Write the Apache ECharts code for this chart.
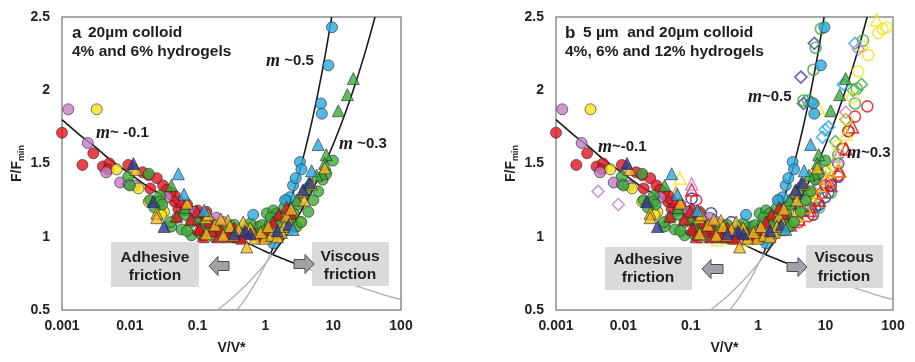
<!DOCTYPE html>
<html>
<head>
<meta charset="utf-8">
<script src="https://cdn.jsdelivr.net/npm/echarts@6/dist/echarts.min.js"></script>
<style>
html,body{margin:0;padding:0;background:#fff;}
#chart{width:915px;height:362px;}
</style>
</head>
<body>
<div id="chart"></div>
<script>
// ---------- tick labels ----------
const xTickLabels = ['0.001', '0.01', '0.1', '1', '10', '100'];
const yTickLabels = ['0.5', '1', '1.5', '2', '2.5'];

// ---------- filled markers (both panels) : [V/V*, F/Fmin] ----------
const redCircles = [[0.001,1.71],[0.002,1.49],[0.0029,1.57],[0.004,1.48],[0.005,1.50],[0.0048,1.46],[0.0095,1.49],[0.0155,1.44],[0.019,1.42],[0.025,1.40],[0.02,1.33],[0.031,1.35],[0.035,1.32],[0.046,1.28],[0.046,1.24],[0.052,1.19],[0.065,1.18],[0.086,1.17],[0.10,1.18],[0.135,1.17],[0.11,1.13],[0.16,1.10],[0.2,1.06],[0.07,1.22],[0.04,1.30]];
const pinkCircles = [[0.00124,1.87],[0.0024,1.64],[0.0045,1.44],[0.0072,1.37],[0.0095,1.36],[0.012,1.35],[0.19,1.13],[0.24,1.10],[0.09,1.17],[0.035,1.27],[0.3,1.08],[0.14,1.12]];
const yellowCircles = [[0.00325,1.87],[0.0064,1.46],[0.0134,1.33],[0.019,1.24],[0.032,1.17],[0.029,1.15],[3.24,1.10],[2.2,1.05],[0.5,1.02],[1.6,1.02],[0.9,1.04],[1.2,1.0],[2.7,1.07],[0.3,1.04],[0.15,1.05]];
const greenCircles = [[0.0095,1.41],[0.01,1.35],[0.019,1.43],[0.028,1.28],[0.02,1.25],[0.028,1.24],[0.058,1.05],[0.041,1.07],[0.081,1.10],[0.12,1.01],[0.081,1.01],[0.115,1.01],[0.12,1.07],[0.05,1.13],[0.03,1.22],[0.065,1.15],[0.15,1.05],[0.2,1.03],[0.25,1.06],[0.35,1.08],[0.55,1.06],[0.79,1.07],[0.9,1.08],[1.05,1.16],[1.17,1.09],[1.31,1.18],[1.4,1.11],[1.48,1.16],[1.64,1.14],[2.05,1.25],[2.3,1.11],[2.9,1.07],[3.4,1.10],[4.3,1.17],[5.1,1.25],[6.0,1.31],[7.0,1.39],[7.9,1.43],[9.9,1.52],[0.7,1.02],[1.9,1.20],[0.13,1.04],[0.17,1.0],[0.3,1.02],[0.45,1.04],[0.6,1.09],[1.0,1.04],[1.2,1.13],[1.7,1.09],[2.6,1.16],[3.0,1.22],[0.04,1.1],[0.07,1.04],[0.023,1.2]];
const cyanCircles = [[9.6,2.43],[8.5,2.17],[6.6,1.91],[6.8,1.84],[3.24,1.51],[3.4,1.46],[2.56,1.35],[2.3,1.27],[1.95,1.25],[0.66,1.15],[1.31,0.955],[2.8,1.40]];
const cyanTriangles = [[0.052,1.43],[0.063,1.29],[0.125,1.18],[2.56,1.05],[4.8,1.45],[6.0,1.63]];
const blueTriangles = [[0.0113,1.50],[0.022,1.24],[0.032,1.07],[0.5,1.04],[0.6,1.02],[3.6,1.32],[4.5,1.37],[0.35,1.02],[1.5,1.04],[2.2,1.08]];
const redTriangles = [[0.049,1.14],[0.058,1.24],[0.097,1.17],[0.103,1.06],[0.108,1.05],[0.2,1.00],[0.21,1.06],[0.27,1.02],[0.3,1.00],[0.4,1.00],[0.53,1.03],[1.05,1.05],[1.57,1.15],[2.05,1.20],[0.15,1.10],[0.12,1.0],[0.16,1.04],[0.35,1.06],[0.45,0.99],[0.7,1.02],[0.9,1.0],[1.3,1.1],[2.4,1.16],[0.08,1.12]];
const orangeTriangles = [[0.0123,1.46],[0.025,1.16],[0.025,1.13],[0.07,1.23],[0.133,1.13],[0.143,1.15],[0.135,1.02],[0.24,1.01],[0.28,1.11],[0.34,1.01],[0.47,1.10],[0.53,0.93],[0.7,0.99],[0.98,0.99],[1.24,1.01],[1.73,1.03],[2.05,1.14],[2.31,1.09],[2.4,1.19],[3.5,1.31],[3.75,1.25],[4.8,1.36],[7.5,1.47],[0.18,1.08],[0.22,1.12],[0.4,1.05],[0.6,1.06],[0.85,1.03],[1.1,1.07],[1.5,1.0],[1.9,1.07],[0.3,1.07]];
const greenTriangles = [[19.8,2.08],[16.2,1.97],[11.9,1.86],[7.9,1.56],[7.5,1.50],[6.8,1.43],[5.7,1.42],[4.3,1.36],[3.9,1.33],[3.6,1.30],[2.9,1.25],[2.31,1.16],[0.041,1.35],[0.065,1.20],[0.1,1.12],[0.5,1.07],[1.3,1.05]];

// ---------- hollow markers (panel b only) ----------
const hBlueCircles = [[0.103,1.26],[0.2,1.16],[0.4,1.10],[0.28,1.05],[0.8,1.03],[1.5,1.06],[2.5,1.12],[3.5,1.22],[5.0,1.18],[6.5,1.15],[8.0,1.22],[9.8,1.27],[15.4,1.50],[15.4,1.41],[12,1.35],[4.0,1.30],[0.5,1.07],[1.2,1.03],[2,1.08],[7,1.2],[11,1.3]];
const hBlueDiamonds = [[6.8,2.32],[4.3,2.09],[4.7,1.91],[6.1,1.92],[4.5,1.30],[3.2,1.25],[2.5,1.20],[7.5,1.33],[0.3,1.03],[1.2,1.05]];
const hGreenCircles = [[8.5,2.42],[7.1,2.29],[6.6,2.14],[4.7,1.93],[5.5,1.93],[36,2.34],[28.9,2.01],[27.3,1.91],[15.4,1.56],[22,1.72],[12,1.30],[8,1.20],[3,1.12],[1.5,1.05],[0.5,1.02],[0.1,1.14],[0.15,1.08],[0.3,1.05],[0.7,1.06],[2,1.1],[4.5,1.2],[0.2,1.08]];
const hGreenDiamonds = [[34,2.04],[25.7,2.0],[20,1.80],[14,1.65],[10,1.45],[6,1.25],[3,1.10],[0.9,1.02]];
const hRedCircles = [[41.6,1.89],[27.3,1.82],[21.7,1.72],[15.4,1.42],[18,1.60],[12,1.38],[9,1.30],[5.5,1.14],[4,1.10],[2.5,1.05],[0.12,1.25],[3,1.08],[6,1.2],[7,1.25],[10,1.35]];
const hRedTriangles = [[0.103,1.32],[0.5,1.0],[1.0,1.0],[2.0,1.05],[4.0,1.12],[8,1.25],[12,1.35],[16,1.45],[20,1.60],[25,1.75],[0.25,1.02],[0.7,1.03],[3,1.08],[6,1.18]];
const hYellowCircles = [[80,2.43],[60,2.39],[43,2.24],[30.5,2.13],[20.5,1.80],[25,1.95],[35,2.30],[70,2.42],[15,1.62],[10,1.45],[6,1.30],[3,1.12],[1,1.0],[0.4,0.99]];
const hYellowTriangles = [[57,2.48],[0.069,1.40],[0.15,1.02],[0.3,1.08],[0.25,0.98],[0.6,0.98],[1.2,1.0],[2,1.05],[4,1.15],[6,1.28],[8,1.35],[11,1.45],[14,1.52],[20,1.7],[7.8,1.88],[0.35,1.03],[0.45,0.99],[0.8,1.02],[1.5,1.02],[2.5,1.1],[3,1.16],[5,1.2]];
const hCyanDiamonds = [[27.3,2.32],[18.4,2.04],[9.8,1.73],[9.0,1.68],[11,1.75],[5,1.22],[3,1.12],[0.2,1.05],[1.5,1.03],[7,1.4]];
const hPinkDiamonds = [[0.0042,1.31],[0.0084,1.22],[0.3,1.0],[0.25,1.02],[0.4,1.01],[0.5,1.0],[0.6,0.99],[0.7,1.01],[0.35,0.99],[0.45,1.02],[0.8,1.0],[1.0,1.02],[30.5,2.28],[20,1.85],[0.2,1.0],[0.55,1.03],[0.9,0.99],[1.2,1.02],[1.6,1.0]];
const hPinkTriangles = [[0.103,1.36],[0.2,1.03],[0.3,1.05],[0.6,1.03],[1.5,1.04],[3,1.1],[8,1.4],[15,1.55]];
const hOrangeTriangles = [[0.06,1.30],[0.15,1.0],[0.35,1.0],[0.8,1.0],[2.5,1.08],[5,1.2],[10,1.4],[15,1.45],[0.5,1.02],[0.25,1.0],[1.2,1.03],[3.5,1.14],[7,1.3]];

// ---------- guide lines, points ----------
const lineNegBlackV = [0.001, 0.002, 0.00316, 0.005, 0.01, 0.02, 0.0316, 0.05, 0.1, 0.2, 0.316, 0.5, 1, 1.6, 2.5, 3];
const lineNegBlackF = [1.80, 1.68, 1.61, 1.53, 1.43, 1.33, 1.28, 1.22, 1.14, 1.06, 1.01, 0.965, 0.90, 0.86, 0.825, 0.81];
const lineNegGrayV = [3, 5, 10, 20, 31.6, 50, 100];
const lineNegGrayF = [0.81, 0.77, 0.72, 0.67, 0.64, 0.61, 0.57];
const lineHalfGrayV = [0.38, 0.5, 0.65, 0.85, 1.2];
const lineHalfGrayF = [0.50, 0.573, 0.654, 0.748, 0.888];
const lineHalfBlackV = [1.2, 1.5, 1.9, 2.4, 3.0, 3.8, 4.8, 6.0, 7.6, 9.5];
const lineHalfBlackF = [0.888, 0.993, 1.118, 1.257, 1.405, 1.581, 1.777, 1.987, 2.236, 2.5];
const lineThirdGrayV = [0.2, 0.3, 0.45, 0.65, 0.9, 1.28];
const lineThirdGrayF = [0.504, 0.569, 0.643, 0.718, 0.792, 0.880];
const lineThirdBlackV = [1.28, 2, 3, 4.5, 7, 10, 15, 22, 31, 41.4];
const lineThirdBlackF = [0.880, 1.006, 1.136, 1.283, 1.465, 1.630, 1.841, 2.066, 2.291, 2.5];

// ---------- colours ----------
const C = {red:'#e5131d', pink:'#c77ac8', yellow:'#f1e41c', green:'#3bab3a', cyan:'#27a9e1', blue:'#2b3595', orange:'#f6b91a', orangeH:'#f39a1e'};

const FONT = '"Liberation Sans", Arial, sans-serif';
const SERIF = '"Liberation Serif", "DejaVu Serif", serif';

function zip(a, b) { return a.map((v, i) => [v, b[i]]); }
function sc(data, symbol, color, hollow, gi, size) {
  return {
    type: 'scatter', xAxisIndex: gi, yAxisIndex: gi, data: data, symbol: symbol, symbolSize: size,
    silent: true, z: 3,
    itemStyle: hollow ? {color: 'rgba(255,255,255,0)', borderColor: color, borderWidth: 1.6}
                      : {color: color, borderColor: '#2a2a2a', borderWidth: 0.8}
  };
}
function ln(V, F, color, width, gi) {
  return {type: 'line', xAxisIndex: gi, yAxisIndex: gi, data: zip(V, F), showSymbol: false, smooth: 0.25,
    silent: true, z: 2, lineStyle: {color: color, width: width}};
}

const series = [];
[0, 1].forEach(gi => {
  series.push(ln(lineNegBlackV, lineNegBlackF, '#1a1a1a', 1.6, gi));
  series.push(ln(lineNegGrayV, lineNegGrayF, '#b0b0b0', 1.3, gi));
  series.push(ln(lineHalfGrayV, lineHalfGrayF, '#b0b0b0', 1.3, gi));
  series.push(ln(lineHalfBlackV, lineHalfBlackF, '#1a1a1a', 1.6, gi));
  series.push(ln(lineThirdGrayV, lineThirdGrayF, '#b0b0b0', 1.3, gi));
  series.push(ln(lineThirdBlackV, lineThirdBlackF, '#1a1a1a', 1.6, gi));
  if (gi === 1) {
    series.push(sc(hBlueCircles, 'circle', C.blue, true, gi, 11));
    series.push(sc(hBlueDiamonds, 'diamond', '#3b3fb0', true, gi, 12));
    series.push(sc(hGreenCircles, 'circle', C.green, true, gi, 11));
    series.push(sc(hGreenDiamonds, 'diamond', C.green, true, gi, 12));
    series.push(sc(hRedCircles, 'circle', C.red, true, gi, 11));
    series.push(sc(hRedTriangles, 'triangle', C.red, true, gi, 12));
    series.push(sc(hYellowCircles, 'circle', C.yellow, true, gi, 11));
    series.push(sc(hYellowTriangles, 'triangle', C.yellow, true, gi, 12));
    series.push(sc(hCyanDiamonds, 'diamond', C.cyan, true, gi, 12));
    series.push(sc(hPinkDiamonds, 'diamond', C.pink, true, gi, 12));
    series.push(sc(hPinkTriangles, 'triangle', C.pink, true, gi, 12));
    series.push(sc(hOrangeTriangles, 'triangle', C.orangeH, true, gi, 12));
  }
  series.push(sc(redCircles, 'circle', C.red, false, gi, 11));
  series.push(sc(pinkCircles, 'circle', C.pink, false, gi, 11));
  series.push(sc(yellowCircles, 'circle', C.yellow, false, gi, 11));
  series.push(sc(greenCircles, 'circle', C.green, false, gi, 11));
  series.push(sc(cyanCircles, 'circle', C.cyan, false, gi, 11));
  series.push(sc(greenTriangles, 'triangle', C.green, false, gi, 12));
  series.push(sc(redTriangles, 'triangle', C.red, false, gi, 12));
  series.push(sc(orangeTriangles, 'triangle', C.orange, false, gi, 12));
  series.push(sc(blueTriangles, 'triangle', C.blue, false, gi, 12));
  series.push(sc(cyanTriangles, 'triangle', C.cyan, false, gi, 12));
});

const grids = [
  {left: 62, top: 17, width: 339, height: 293},
  {left: 556, top: 17, width: 337, height: 293}
].map(g => Object.assign(g, {show: true, borderColor: '#8c8c8c', borderWidth: 1.5, backgroundColor: 'transparent'}));

function xAx(gi) {
  return {
    type: 'log', logBase: 10, gridIndex: gi, min: 0.001, max: 100,
    name: 'V/V*', nameLocation: 'middle', nameGap: 31,
    nameTextStyle: {fontFamily: FONT, fontWeight: 'bold', fontSize: 14, color: '#222'},
    axisLine: {show: false}, axisTick: {show: false}, splitLine: {show: false}, minorTick: {show: false},
    axisLabel: {margin: 9, fontFamily: FONT, fontWeight: 'bold', fontSize: 14, color: '#222',
      formatter: v => xTickLabels[Math.round(Math.log10(v)) + 3]}
  };
}
function yAx(gi) {
  return {
    type: 'value', gridIndex: gi, min: 0.5, max: 2.5, interval: 0.5,
    name: '{a|F/F}{b|min}', nameLocation: 'middle', nameGap: 36,
    nameTextStyle: {rich: {
      a: {fontFamily: FONT, fontWeight: 'bold', fontSize: 14, color: '#222', lineHeight: 18},
      b: {fontFamily: FONT, fontWeight: 'bold', fontSize: 9, color: '#222', verticalAlign: 'bottom', lineHeight: 18, padding: [5, 0, 0, 0]}
    }},
    axisLine: {show: false}, axisTick: {show: false}, splitLine: {show: false},
    axisLabel: {margin: 12, fontFamily: FONT, fontWeight: 'bold', fontSize: 14, color: '#222',
      formatter: v => yTickLabels[Math.round((v - 0.5) / 0.5)]}
  };
}

function txt(x, y, text, size, align) {
  return {type: 'text', z: 100, style: {x: x, y: y, text: text, fill: '#1e1e1e',
    font: 'bold ' + size + 'px ' + FONT, fontFamily: FONT, fontWeight: 'bold', fontSize: size,
    align: align || 'left', verticalAlign: 'middle', textAlign: align || 'left', textVerticalAlign: 'middle'}};
}
function mLabel(x, y, rest) {
  return {type: 'text', z: 100, style: {x: x, y: y, text: '{m|m}{r|' + rest + '}',
    align: 'left', verticalAlign: 'middle', textAlign: 'left', textVerticalAlign: 'middle',
    rich: {
      m: {fontFamily: SERIF, fontStyle: 'italic', fontWeight: 'bold', fontSize: 18, fill: '#1e1e1e', color: '#1e1e1e'},
      r: {fontFamily: FONT, fontWeight: 'bold', fontSize: 15, fill: '#1e1e1e', color: '#1e1e1e'}
    }}};
}
function box(x, y, w, h) {
  return {type: 'rect', z: 90, shape: {x: x, y: y, width: w, height: h}, style: {fill: '#dadada'}};
}
function arrow(pts) {
  return {type: 'polygon', z: 95, shape: {points: pts}, style: {fill: '#9ea3aa', stroke: '#4a4a4a', lineWidth: 1}};
}
function leftArrow(x0, x1, cy) {
  const hx = x0 + 9;
  return arrow([[x0, cy], [hx, cy - 9.5], [hx, cy - 4.5], [x1, cy - 4.5], [x1, cy + 4.5], [hx, cy + 4.5], [hx, cy + 9.5]]);
}
function rightArrow(x0, x1, cy) {
  const hx = x1 - 9;
  return arrow([[x1, cy], [hx, cy - 9.5], [hx, cy - 4.5], [x0, cy - 4.5], [x0, cy + 4.5], [hx, cy + 4.5], [hx, cy + 9.5]]);
}

const graphics = [
  // panel a
  txt(72, 33, 'a', 17), txt(88, 33, '20µm colloid', 15.5), txt(72, 52, '4% and 6% hydrogels', 15.5),
  mLabel(266, 61, ' ~0.5'), mLabel(96, 133, '~ -0.1'), mLabel(339, 144, ' ~0.3'),
  box(111, 242, 88, 45), txt(155, 258, 'Adhesive', 15.5, 'center'), txt(155, 276, 'friction', 15.5, 'center'),
  box(312, 242, 77, 44), txt(350, 257, 'Viscous', 15.5, 'center'), txt(350, 275, 'friction', 15.5, 'center'),
  leftArrow(209, 229, 266), rightArrow(294, 314, 264),
  // panel b
  txt(565, 33, 'b', 17), txt(583, 33, '5 µm  and 20µm colloid', 15.5), txt(565, 52, '4%, 6% and 12% hydrogels', 15.5),
  mLabel(748, 97, '~0.5'), mLabel(598, 147, '~-0.1'), mLabel(847, 153, '~0.3'),
  box(605, 247, 87, 43), txt(648, 260, 'Adhesive', 15.5, 'center'), txt(648, 278, 'friction', 15.5, 'center'),
  box(806, 245, 77, 43), txt(844, 258, 'Viscous', 15.5, 'center'), txt(844, 277, 'friction', 15.5, 'center'),
  leftArrow(702, 723, 269), rightArrow(787, 807, 267)
];

const chart = echarts.init(document.getElementById('chart'), null, {renderer: 'canvas'});
chart.setOption({
  animation: false,
  backgroundColor: '#ffffff',
  grid: grids,
  xAxis: [xAx(0), xAx(1)],
  yAxis: [yAx(0), yAx(1)],
  series: series,
  graphic: {elements: graphics}
});
</script>
</body>
</html>
